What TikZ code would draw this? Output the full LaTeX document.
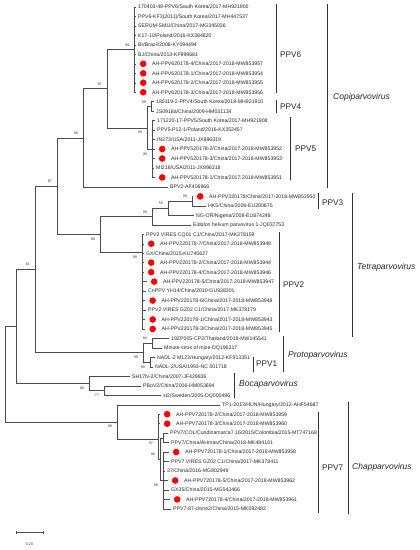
\documentclass[tikz,border=0pt]{standalone}
\usepackage{fontspec}
\setmainfont{Liberation Sans}
\usetikzlibrary{positioning}

\begin{document}
\begin{tikzpicture}[x=1pt, y=-9.47pt,
	br/.style={draw=black!70, line width=0.45pt},
	bar/.style={draw=black!80, line width=1pt},
	leaf/.style={anchor=west, inner sep=0pt, text height=3.7pt, text depth=0pt, text=black!85, font=\fontsize{5.2}{6}\selectfont},
	dot/.style={circle, fill=red, inner sep=0pt, minimum size=6.6pt},
	boot/.style={inner sep=0pt, text height=2.6pt, text depth=0pt, text=black!80, font=\fontsize{3.6}{4}\selectfont},
	bootup/.style={boot, anchor=south east, xshift=-5pt, yshift=3.2pt},
	bootdn/.style={boot, anchor=north east, xshift=-5pt, yshift=-3.2pt},
	clade/.style={anchor=west, inner sep=0pt, text=black!85, font=\fontsize{8.2}{9}\selectfont},
	genus/.style={anchor=west, inner sep=0pt, text=black!85, font=\fontsize{8.5}{9}\selectfont\itshape}]
	\useasboundingbox (0,0.261) rectangle (420,58.34);

	% leaf: row, tip x, label
	\def\leaf#1#2#3{\coordinate (t#1) at (#2,#1);
		\node[leaf, right=2.5pt of t#1] (l#1) {#3};}
	% leaf with a red mark
	\def\dleaf#1#2#3{\coordinate (t#1) at (#2,#1);
		\node[dot, right=4.2pt of t#1] (d#1) {};
		\node[leaf, right=5.2pt of d#1] (l#1) {#3};}

	% Copiparvovirus
	\leaf{1}{135.5}{170403-49-PPV6/South Korea/2017-MH921900}
	\leaf{2}{135.5}{PPV6-KF3(2011)/South Korea/2017-MH447537}
	\leaf{3}{135.5}{SERUM-SMU/China/2017-MG345036}
	\leaf{4}{135.5}{K17-10/Poland/2016-KX384820}
	\leaf{5}{135.5}{Br/Brazil/2008-KY094494}
	\leaf{6}{135.5}{BJ/China/2013-KF999681}
	\dleaf{7}{135.5}{AH-PPV620178-4/China/2017-2018-MW853957}
	\dleaf{8}{135.5}{AH-PPV620178-1/China/2017-2018-MW853954}
	\dleaf{9}{135.5}{AH-PPV620178-2/China/2017-2018-MW853955}
	\dleaf{10}{135.5}{AH-PPV620178-3/China/2017-2018-MW853956}
	\leaf{11}{153.5}{180119-2-PPV4/South Korea/2018-MH921910}
	\leaf{12}{153.5}{JS0918a/China/2009-HM031134}
	\leaf{13}{154.5}{171220-17-PPV5/South Korea/2017-MH921908}
	\leaf{14}{154.5}{PPV5-P12-1/Poland/2016-KX352457}
	\leaf{15}{154.5}{IN273/USA/2011-JX896319}
	\dleaf{16}{154.5}{AH-PPV520178-2/China/2017-2018-MW853952}
	\dleaf{17}{154.5}{AH-PPV520178-3/China/2017-2018-MW853953}
	\leaf{18}{153.5}{MI216/USA/2011-JX896318}
	\dleaf{19}{154.5}{AH-PPV520178-1/China/2017-2018-MW853951}
	\leaf{20}{167.5}{BPV2-AF406966}

	% Tetraparvovirus
	\dleaf{21}{192.5}{AH-PPV320178/China/2017-2018-MW853950}
	\leaf{22}{205.5}{HK5/China/2008-EU200675}
	\leaf{23}{193.5}{NG-OR/Nigeria/2008-EU874248}
	\leaf{24}{190.5}{Eidolon helvum parvovirus 1-JQ037753}
	\leaf{25}{143.5}{PPV2 VIRES CQ01 C1/China/2017-MK378159}
	\dleaf{26}{143.5}{AH-PPV220178-7/China/2017-2018-MW853949}
	\leaf{27}{143.5}{GX/China/2015-KU745627}
	\dleaf{28}{143.5}{AH-PPV220178-2/China/2017-2018-MW853944}
	\dleaf{29}{143.5}{AH-PPV220178-4/China/2017-2018-MW853946}
	\dleaf{30}{146.5}{AH-PPV220178-5/China/2017-2018-MW853947}
	\leaf{31}{145.5}{CnPPV YH14/China/2010-GU938301}
	\dleaf{32}{145}{AH-PPV220178-6/China/2017-2018-MW853948}
	\leaf{33}{145.5}{PPV2 VIRES GZ02 C1/China/2017-MK378179}
	\dleaf{34}{145}{AH-PPV220178-1/China/2017-2018-MW853943}
	\dleaf{35}{145}{AH-PPV220178-3/China/2017-2018-MW853945}

	% Protoparvovirus
	\leaf{36}{168.5}{19ZP005-CP2/Thailand/2019-MW145541}
	\leaf{37}{161.5}{Minute virus of mice-DQ196317}
	\leaf{38}{154.5}{NADL-2 M123/Hungary/2012-KF913351}
	\leaf{39}{152.5}{NADL-2/USA/1993-NC 001718}

	% Bocaparvovirus
	\leaf{40}{129.5}{SH17N-2/China/2007-JF429836}
	\leaf{41}{140.5}{PBoV2/China/2006-HM053694}
	\leaf{42}{160.5}{st2/Sweden/2005-DQ000496}

	% Chapparvovirus
	\leaf{43}{219.5}{TP1-2013/HUN/Hungary/2012-AHF54687}
	\dleaf{44}{159.5}{AH-PPV720178-2/China/2017-2018-MW853959}
	\dleaf{45}{159.5}{AH-PPV720178-3/China/2017-2018-MW853960}
	\leaf{46}{167.5}{PPV7/COL/Cundinamarca7.16/2015/Colombia/2015-MT747168}
	\leaf{47}{168.5}{PPV7/China/AHmas/China/2018-MK484101}
	\dleaf{48}{168.5}{AH-PPV720178-1/China/2017-2018-MW853958}
	\leaf{49}{168.5}{PPV7 VIRES GZ02 C1/China/2017-MK378411}
	\leaf{50}{164.5}{37/China/2016-MG902949}
	\dleaf{51}{167.5}{AH-PPV720178-5/China/2017-2018-MW853962}
	\leaf{52}{168.5}{GX35/China/2015-MG543466}
	\dleaf{53}{169.5}{AH-PPV720178-4/China/2017-2018-MW853961}
	\leaf{54}{170.5}{PPV7-87-clone2/China/2015-MK092482}

	% inner nodes
	\coordinate (n6) at (134.5,5.5);
	\coordinate (n4) at (151,11.5);
	\coordinate (n5) at (152.5,16);
	\coordinate (n45) at (147,13.75);
	\coordinate (nC1) at (107,9.625);
	\coordinate (nC2) at (83,14.81);
	\coordinate (n3) at (192,21.5);
	\coordinate (n3b) at (168,22.25);
	\coordinate (n3c) at (152,23.125);
	\coordinate (n2) at (142,26.9);
	\coordinate (nT) at (100,25);
	\coordinate (nCT) at (57,19.9);
	\coordinate (nMV) at (152,36.5);
	\coordinate (n1) at (150,38.5);
	\coordinate (nP) at (143,37.5);
	\coordinate (nTP) at (35,28.7);
	\coordinate (nB2) at (104,41.5);
	\coordinate (nB) at (89,40.75);
	\coordinate (nTPB) at (16,34.7);
	\coordinate (n7ab) at (158.5,44.5);
	\coordinate (n7c) at (163,46.5);
	\coordinate (n7d) at (163,51);
	\coordinate (n7b) at (160,48.75);
	\coordinate (n7) at (158,46.6);
	\coordinate (nCh) at (117,44.8);
	\coordinate (root) at (5,39.75);

	% branches
	\draw[br] (n6) |- (t1) (n6) |- (t2) (n6) |- (t3) (n6) |- (t4) (n6) |- (t5)
		(n6) |- (t6) (n6) |- (t7) (n6) |- (t8) (n6) |- (t9) (n6) |- (t10);
	\draw[br] (n4) |- (t11) (n4) |- (t12);
	\draw[br] (n5) |- (t13) (n5) |- (t14) (n5) |- (t15) (n5) |- (t16)
		(n5) |- (t17) (n5) |- (t18) (n5) |- (t19);
	\draw[br] (n45) |- (n4) (n45) |- (n5);
	\draw[br] (nC1) |- (n6) (nC1) |- (n45);
	\draw[br] (nC2) |- (nC1) (nC2) |- (t20);
	\draw[br] (n3) |- (t21) (n3) |- (t22);
	\draw[br] (n3b) |- (n3) (n3b) |- (t23);
	\draw[br] (n3c) |- (n3b) (n3c) |- (t24);
	\draw[br] (n2) |- (t25) (n2) |- (t26) (n2) |- (t27) (n2) |- (t28) (n2) |- (t29)
		(n2) |- (t30) (n2) |- (t31) (n2) |- (t32) (n2) |- (t33) (n2) |- (t34) (n2) |- (t35);
	\draw[br] (nT) |- (n3c) (nT) |- (n2);
	\draw[br] (nCT) |- (nC2) (nCT) |- (nT);
	\draw[br] (nMV) |- (t36) (nMV) |- (t37);
	\draw[br] (n1) |- (t38) (n1) |- (t39);
	\draw[br] (nP) |- (nMV) (nP) |- (n1);
	\draw[br] (nTP) |- (nCT) (nTP) |- (nP);
	\draw[br] (nB2) |- (t41) (nB2) |- (t42);
	\draw[br] (nB) |- (t40) (nB) |- (nB2);
	\draw[br] (nTPB) |- (nTP) (nTPB) |- (nB);
	\draw[br] (n7ab) |- (t44) (n7ab) |- (t45);
	\draw[br] (n7c) |- (t46) (n7c) |- (t47);
	\draw[br] (n7d) |- (t48) (n7d) |- (t49) (n7d) |- (t50) (n7d) |- (t51)
		(n7d) |- (t52) (n7d) |- (t53) (n7d) |- (t54);
	\draw[br] (n7b) |- (n7c) (n7b) |- (n7d);
	\draw[br] (n7) |- (n7ab) (n7) |- (n7b);
	\draw[br] (nCh) |- (t43) (nCh) |- (n7);
	\draw[br] (root) |- (nTPB) (root) |- (nCh);

	% bootstrap values
	\node[bootup] (b6) at (n6) {99};
	\node[bootup] (b4) at (n4) {99};
	\node[bootdn] (b45) at (n45) {99};
	\node[bootdn] (b5) at (n5) {85};
	\node[bootup] (bC1) at (nC1) {97};
	\node[bootup] (bC2) at (nC2) {96};
	\node[bootup] (bCT) at (nCT) {87};
	\node[bootup] (b3) at (n3) {99};
	\node[bootup] (b3b) at (n3b) {55};
	\node[bootup] (b3c) at (n3c) {99};
	\node[bootdn] (bT) at (nT) {99};
	\node[bootdn] (b2) at (n2) {99};
	\node[bootup] (bTP) at (nTP) {61};
	\node[bootup] (bMV) at (nMV) {94};
	\node[bootdn] (bP) at (nP) {99};
	\node[bootdn] (b1) at (n1) {99};
	\node[bootdn] (bB) at (nB) {99};
	\node[bootdn] (bB2) at (nB2) {77};
	\node[bootdn] (bCh) at (nCh) {99};
	\node[bootdn] (b7) at (n7) {97};
	\node[bootup] (b7b) at (n7b) {98};
	\node[bootdn] (b7d) at (n7d) {99};

	% clade bars
	\draw[bar] (276,0.68) -- (276,10.08);
	\node[clade] (cPPV6) at (280,6.07) {PPV6};
	\draw[bar] (276,10.82) -- (276,12.19);
	\node[clade] (cPPV4) at (280,11.56) {PPV4};
	\draw[bar] (290,12.6) -- (290,19.27);
	\node[clade] (cPPV5) at (295,16) {PPV5};
	\draw[bar] (327,0.68) -- (327,20.1);
	\node[genus] (gCopi) at (333,10.5) {Copiparvovirus};
	\draw[bar] (318,20.64) -- (318,22.33);
	\node[clade] (cPPV3) at (322,21.7) {PPV3};
	\draw[bar] (279,24.76) -- (279,35.3);
	\node[clade] (cPPV2) at (283,30.35) {PPV2};
	\draw[bar] (352,20.64) -- (352,35.85);
	\node[genus] (gTetra) at (357,28.45) {Tetraparvovirus};
	\draw[bar] (253,37.96) -- (253,39.54);
	\node[clade] (cPPV1) at (256,38.7) {PPV1};
	\draw[bar] (283,35.74) -- (283,39.54);
	\node[genus] (gProto) at (288,37.75) {Protoparvovirus};
	\draw[bar] (234,39.65) -- (234,42.3);
	\node[genus] (gBoca) at (239,40.8) {Bocaparvovirus};
	\draw[bar] (318,43.8) -- (318,54.4);
	\node[clade] (cPPV7) at (322,49.6) {PPV7};
	\draw[bar] (348,42.71) -- (348,54.5);
	\node[genus] (gChap) at (352,49.6) {Chapparvovirus};

	% scale
	\coordinate (s0) at (16,56.44);
	\coordinate (s1) at (43,56.44);
	\draw[br] (s0) -- (s1);
	\draw[br] ([yshift=1.5pt]s0) -- ([yshift=-1.5pt]s0);
	\draw[br] ([yshift=1.5pt]s1) -- ([yshift=-1.5pt]s1);
	\node[boot] (scale) at (29.5,57.7) {0.20};
\end{tikzpicture}
\end{document}
